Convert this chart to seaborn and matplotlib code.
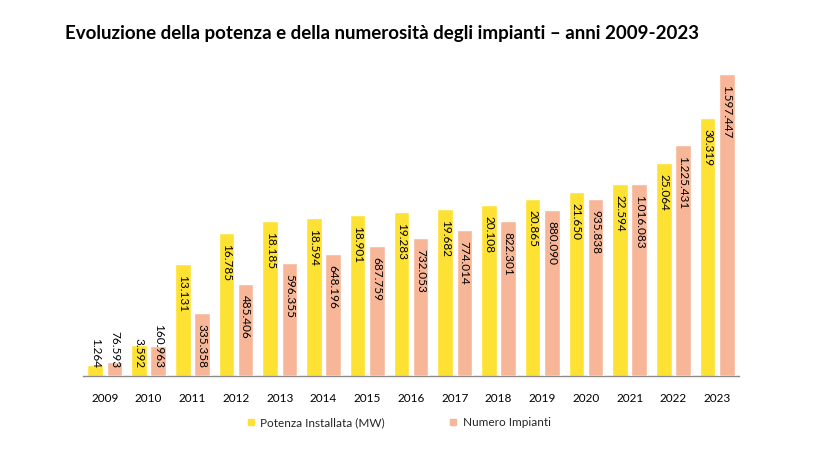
import matplotlib
matplotlib.use("Agg")
import matplotlib.pyplot as plt
from matplotlib.lines import Line2D
from matplotlib.transforms import offset_copy
import seaborn as sns
import pandas as pd

anni = ["2009", "2010", "2011", "2012", "2013", "2014", "2015", "2016",
        "2017", "2018", "2019", "2020", "2021", "2022", "2023"]
potenza_mw = [1264, 3592, 13131, 16785, 18185, 18594, 18901, 19283,
              19682, 20108, 20865, 21650, 22594, 25064, 30319]
numero_impianti = [76593, 160963, 335358, 485406, 596355, 648196, 687759, 732053,
                   774014, 822301, 880090, 935838, 1016083, 1225431, 1597447]
serie = ["Potenza Installata (MW)", "Numero Impianti"]
colori = ["#FEE233", "#F7B698"]

sns.set_theme(style="white")
plt.rcParams["font.family"] = ["Lato", "DejaVu Sans"]

df_p = pd.DataFrame({"anno": anni, "valore": potenza_mw, "serie": serie[0]})
df_n = pd.DataFrame({"anno": anni, "valore": numero_impianti, "serie": serie[1]})

fig = plt.figure(figsize=(8.2, 4.5), dpi=100)
ax1 = fig.add_axes([83 / 820, 1 - 376 / 450, (739 - 83) / 820, 340 / 450])
ax2 = ax1.twinx()

pal = dict(zip(serie, colori))
sns.barplot(data=df_p, x="anno", y="valore", hue="serie", hue_order=serie,
            palette=pal, width=0.88, gap=0.19, dodge=True, ax=ax1,
            legend=False, saturation=1, order=anni)
sns.barplot(data=df_n, x="anno", y="valore", hue="serie", hue_order=serie,
            palette=pal, width=0.88, gap=0.19, dodge=True, ax=ax2,
            legend=False, saturation=1, order=anni)

ax1.set_ylim(0, 40000)
ax2.set_ylim(0, 1800000)
ax1.set_xlim(-0.5, len(anni) - 0.5)

for ax in (ax1, ax2):
    ax.set_xlabel("")
    ax.set_ylabel("")
    ax.set_yticks([])
    for s in ("top", "left", "right", "bottom"):
        ax.spines[s].set_visible(False)
ax1.spines["bottom"].set_visible(True)
ax1.spines["bottom"].set_color("#8C8C8C")
ax1.spines["bottom"].set_linewidth(1.0)
ax1.tick_params(axis="x", length=0, pad=12, labelsize=8.5, labelcolor="black")
ax2.tick_params(axis="x", length=0)


def fmt(v):
    return f"{v:,}".replace(",", ".")


fig.canvas.draw()
renderer = fig.canvas.get_renderer()
for ax in (ax1, ax2):
    bars = [p for p in ax.patches if p.get_height() > 0]
    for b in bars:
        x = b.get_x() + b.get_width() / 2
        h = b.get_height()
        t = ax.text(x, h, fmt(int(round(h))), rotation=270, ha="center", va="top",
                    fontsize=8.5, color="black",
                    transform=offset_copy(ax.transData, fig=fig, x=0, y=-11, units="dots"))
        bb = t.get_window_extent(renderer)
        base = ax.transData.transform((x, 0))[1]
        if bb.y0 < base + 8:
            t.set_transform(offset_copy(ax.transData, fig=fig, x=0, y=8, units="dots"))
            t.set_position((x, 0))
            t.set_va("bottom")

fig.text(65 / 820, 1 - 33 / 450,
         "Evoluzione della potenza e della numerosità degli impianti – anni 2009-2023",
         fontsize=13.5, fontweight="bold", va="center", ha="left", color="black")

handles = [Line2D([], [], marker="s", linestyle="none", markersize=5,
                  markerfacecolor=c, markeredgecolor=c) for c in colori]
fig.legend(handles, serie, loc="center left", bbox_to_anchor=(246 / 820, 1 - 423 / 450),
           ncol=2, frameon=False, fontsize=8.5, handlelength=0.8, handletextpad=0.4,
           columnspacing=5.4, borderaxespad=0, borderpad=0)

fig.savefig("out.png", dpi=100)
